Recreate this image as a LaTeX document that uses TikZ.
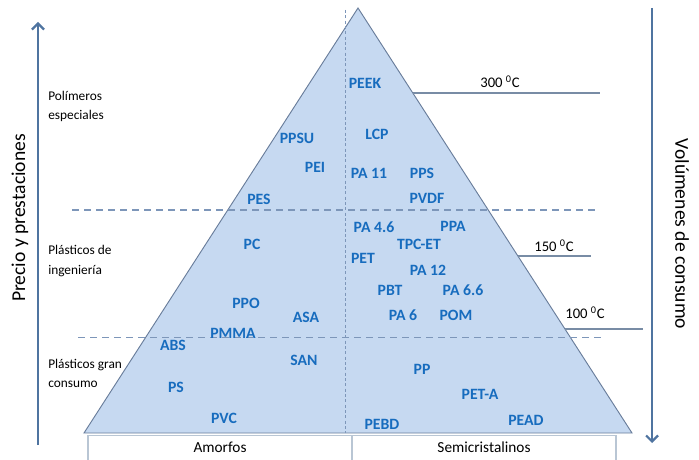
\documentclass[tikz,border=0pt]{standalone}
\usepackage{fontspec}
\setmainfont{Carlito}
\usepackage{tikz}
\usetikzlibrary{arrows.meta}

\definecolor{trifill}{RGB}{198,217,241}
\definecolor{triedge}{RGB}{105,125,155}
\definecolor{polyblue}{RGB}{23,108,190}
\definecolor{dashcol}{RGB}{125,150,185}
\definecolor{arrowcol}{RGB}{79,116,160}
\definecolor{boxcol}{RGB}{185,198,212}

\begin{document}
\begin{tikzpicture}[x=0.75pt,y=0.75pt,yscale=-1,xscale=1,
  poly/.style={inner sep=0pt,text=polyblue,font=\fontsize{11.8}{13}\selectfont\bfseries},
  family/.style={inner sep=0pt,anchor=west,align=left,font=\fontsize{10}{14.3}\selectfont},
  temp/.style={inner sep=0pt,font=\fontsize{11}{12}\selectfont},
  axis/.style={inner sep=0pt,font=\fontsize{14.7}{17}\selectfont},
  boxtext/.style={inner sep=0pt,font=\fontsize{11.5}{13}\selectfont},
  levelline/.style={dashcol,line width=0.9,dash pattern={on 5.5pt off 3.5pt}},
  templine/.style={color={rgb, 255:red, 120; green, 140; blue, 165},line width=0.8}]
\useasboundingbox (0,0) rectangle (699,460);

%Shape: Triangle
\coordinate (apex) at (358,8);
\coordinate (bl) at (84,433);
\coordinate (br) at (632,433);
\draw [color=triedge,line width=0.7,fill=trifill] (bl) -- (apex) -- (br) -- cycle;

%Straight Lines (split amorfos / semicristalinos)
\draw [dashcol,line width=0.7,dash pattern={on 2.2pt off 1.8pt}] (345,10) -- (345,433);

%Straight Lines (levels)
\draw [levelline] (72,210) -- (595,210);
\draw [levelline] (78,337.5) -- (602,337.5);

%Straight Lines (temperatures)
\draw [templine] (413,93) -- (600,93);
\draw [templine] (518,256) -- (591,256);
\draw [templine] (565,329) -- (643,329);

%Arrows
\draw [arrowcol,line width=1.6,-{Straight Barb[length=4.5pt,width=9pt]}] (38,445) -- (38,22);
\draw [arrowcol,line width=1.6,-{Straight Barb[length=4.5pt,width=9pt]}] (652,8) -- (652,443);

%Bottom boxes
\draw [boxcol,line width=0.8] (88,465) -- (88,435.5) -- (616,435.5) -- (616,465);
\draw [boxcol,line width=0.8] (352,435.5) -- (352,465);

% Text Node
\node [boxtext] (amorfos) at (220,447) {Amorfos};
\node [boxtext] (semicris) at (484,447) {Semicristalinos};

% Text Node
\node [axis,rotate=90] (precio) at (20,218) {Precio y prestaciones};
\node [axis,rotate=-90] (volumen) at (682,234) {Volúmenes de consumo};

% Text Node
\node [family] (especiales) at (48,106) {Polímeros\\especiales};
\node [family] (ingenieria) at (48,261) {Plásticos de\\ingeniería};
\node [family] (consumo) at (48,373) {Plásticos gran\\consumo};

% Text Node
\node [temp] (t300) at (500,82) {300 \textsuperscript{0}C};
\node [temp] (t150) at (554,246) {150 \textsuperscript{0}C};
\node [temp] (t100) at (585,313) {100 \textsuperscript{0}C};

% Text Node
\node [poly] (peek) at (365,83) {PEEK};
\node [poly] (lcp) at (377,134) {LCP};
\node [poly] (ppsu) at (297,138) {PPSU};
\node [poly] (pei) at (315,167) {PEI};
\node [poly] (pa11) at (369,173) {PA 11};
\node [poly] (pps) at (422,173) {PPS};
\node [poly] (pes) at (259,199) {PES};
\node [poly] (pvdf) at (427,198) {PVDF};
\node [poly] (pa46) at (374,227) {PA 4.6};
\node [poly] (ppa) at (453,226) {PPA};
\node [poly] (tpcet) at (419,244) {TPC-ET};
\node [poly] (pc) at (252,244) {PC};
\node [poly] (pet) at (363,258) {PET};
\node [poly] (pa12) at (428,270) {PA 12};
\node [poly] (pbt) at (390,290) {PBT};
\node [poly] (pa66) at (463,290) {PA 6.6};
\node [poly] (ppo) at (246,303) {PPO};
\node [poly] (pa6) at (403,315) {PA 6};
\node [poly] (pom) at (456,315) {POM};
\node [poly] (asa) at (306,317) {ASA};
\node [poly] (pmma) at (233,333) {PMMA};
\node [poly] (abs) at (173,345) {ABS};
\node [poly] (san) at (304,360) {SAN};
\node [poly] (pp) at (422,369) {PP};
\node [poly] (ps) at (176,387) {PS};
\node [poly] (peta) at (480,394) {PET-A};
\node [poly] (pvc) at (224,418) {PVC};
\node [poly] (pead) at (526,420) {PEAD};
\node [poly] (pebd) at (382,424) {PEBD};

\end{tikzpicture}
\end{document}
